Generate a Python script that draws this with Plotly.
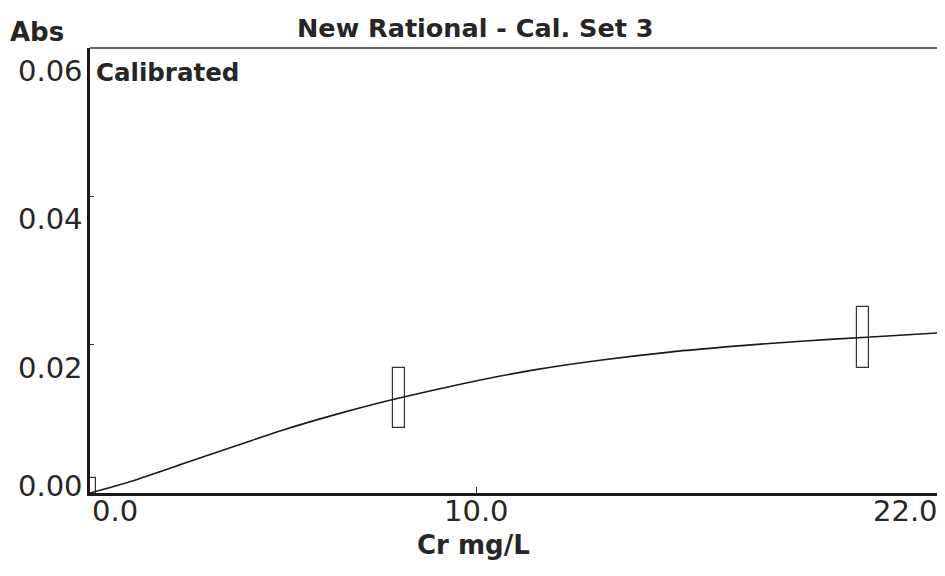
import plotly.graph_objects as go

# Calibration curve
curve_conc = [0.0, 1.2, 2.5, 3.8, 5.0, 6.3, 7.6, 8.0, 9.8, 11.5, 13.2, 15.0, 16.7, 18.5, 20.1, 22.0]
curve_abs = [0.0, 0.0018, 0.0041, 0.0064, 0.0085, 0.0105, 0.0123, 0.0128, 0.0149, 0.0166, 0.0179, 0.0190, 0.0198, 0.0205, 0.0210, 0.0216]

# Calibration standards (range boxes)
std_conc = [0.0, 8.0, 20.0]
std_low = [-0.002, 0.0088, 0.0169]
std_high = [0.002, 0.0169, 0.0251]

x_tick_vals = [0.0, 10.0, 22.0]
x_tick_text = ["0.0", "10.0", "22.0"]
y_tick_vals = [0.0, 0.02, 0.04, 0.06]
y_tick_text = ["0.00", "0.02", "0.04", "0.06"]

title_text = "New Rational - Cal. Set 3"
y_title = "Abs"
x_title = "Cr mg/L"
status_text = "Calibrated"

INK = "#262626"
BOLD = "DejaVu Sans"

fig = go.Figure()

fig.add_trace(go.Bar(
    x=std_conc,
    y=[h - l for h, l in zip(std_high, std_low)],
    base=std_low,
    width=0.32,
    marker=dict(color="rgba(255,255,255,0)", line=dict(color="#333333", width=1.2)),
    showlegend=False,
    hoverinfo="skip",
))

fig.add_trace(go.Scatter(
    x=curve_conc, y=curve_abs, mode="lines",
    line=dict(color="#1a1a1a", width=1.6, shape="spline", smoothing=1.0),
    showlegend=False,
))

fig.update_layout(
    width=937, height=568,
    margin=dict(l=82, r=5, t=40, b=83),
    paper_bgcolor="white", plot_bgcolor="white",
    font=dict(family="DejaVu Sans", color=INK),
    xaxis=dict(range=[0, 22], tickvals=x_tick_vals, showticklabels=False,
               ticks="inside", ticklen=6, tickcolor="#333", tickwidth=1.2,
               showgrid=False, zeroline=False,
               showline=True, linecolor="#1a1a1a", linewidth=3),
    yaxis=dict(range=[0, 0.06], tickvals=y_tick_vals, showticklabels=False,
               ticks="inside", ticklen=4, tickcolor="#333", tickwidth=1.2,
               showgrid=False, zeroline=False,
               showline=True, linecolor="#1a1a1a", linewidth=3),
    bargap=0,
)

# thin top and right frame
fig.add_shape(type="line", xref="paper", yref="paper", x0=0, x1=1, y0=1, y1=1,
              line=dict(color="#333333", width=1.5))
fig.add_shape(type="line", xref="paper", yref="paper", x0=1, x1=1, y0=0, y1=1,
              line=dict(color="#333333", width=1.5))

tickfont = dict(family="DejaVu Sans", size=29, color=INK)

# x tick labels
for v, t in zip(x_tick_vals, x_tick_text):
    anchor = "left" if v == x_tick_vals[0] else ("right" if v == x_tick_vals[-1] else "center")
    fig.add_annotation(x=v, xref="x", y=0, yref="paper", text=t, showarrow=False,
                       xanchor=anchor, yanchor="top", yshift=1, font=tickfont)

# y tick labels (placed below their ticks, except the bottom one)
for v, t in zip(y_tick_vals, y_tick_text):
    shift = 7 if v == y_tick_vals[0] else -23
    fig.add_annotation(x=0, xref="paper", y=v, yref="y", text=t, showarrow=False,
                       xanchor="right", yanchor="middle", xshift=-5, yshift=shift, font=tickfont)

PW = 850.0
boldfont = dict(family=BOLD, size=26, color=INK)
fig.add_annotation(x=(475 - 90) / PW, xref="paper", y=1, yref="paper", text="<b>%s</b>" % title_text,
                   showarrow=False, xanchor="center", yanchor="middle", yshift=20,
                   font=dict(family=BOLD, size=25.5, color=INK))
fig.add_annotation(x=(8 - 90) / PW, xref="paper", y=1, yref="paper", text="<b>%s</b>" % y_title,
                   showarrow=False, xanchor="left", yanchor="middle", yshift=16, font=boldfont)
fig.add_annotation(x=(94 - 90) / PW, xref="paper", y=1, yref="paper", text="<b>%s</b>" % status_text,
                   showarrow=False, xanchor="left", yanchor="middle", yshift=-24,
                   font=dict(family=BOLD, size=24.5, color=INK))
fig.add_annotation(x=(473 - 90) / PW, xref="paper", y=0, yref="paper", text="<b>%s</b>" % x_title,
                   showarrow=False, xanchor="center", yanchor="middle", yshift=-52, font=boldfont)

fig.write_html("out.html")
